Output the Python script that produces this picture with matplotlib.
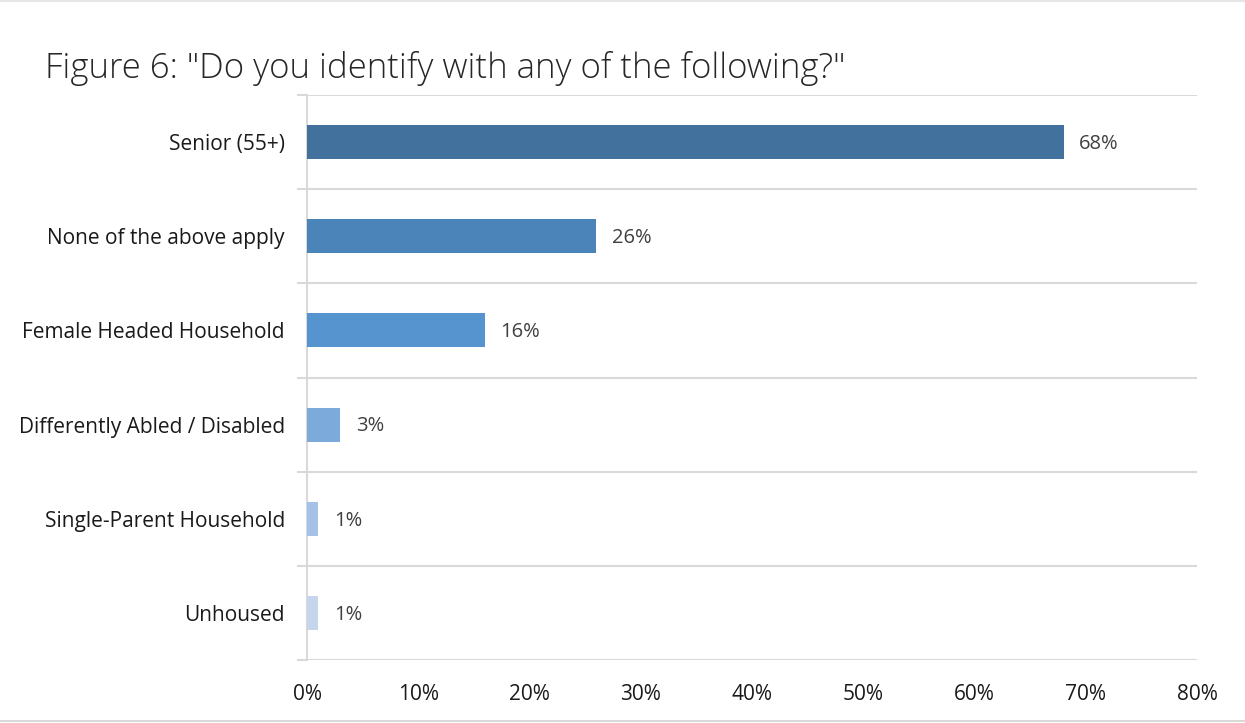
import matplotlib.pyplot as plt
from matplotlib.lines import Line2D
import numpy as np

categories = ["Senior (55+)", "None of the above apply", "Female Headed Household",
              "Differently Abled / Disabled", "Single-Parent Household", "Unhoused"]
values = [68, 26, 16, 3, 1, 1]
colors = ["#41719C", "#4A84B8", "#5594CE", "#7BAADB", "#A4C2E5", "#C5D5EC"]
xticks = [0, 10, 20, 30, 40, 50, 60, 70, 80]

fig = plt.figure(figsize=(12.45, 7.23), dpi=100)
ax = fig.add_axes([307 / 1245, 1 - 660 / 723, 890 / 1245, 565 / 723])

y = np.arange(len(categories))
ax.barh(y, values, height=0.36, color=colors, zorder=3)
for yi, v in zip(y, values):
    ax.text(v + 1.4, yi + 0.02, f"{v}%", va="center", ha="left", fontsize=14.5,
            color="#404040", family="Open Sans")

ax.set_ylim(len(categories) - 0.5, -0.5)
ax.set_xlim(0, 80)
ax.set_yticks(y)
ax.set_yticklabels(categories, fontsize=15, family="Open Sans", color="#1a1a1a")
ax.set_yticks(np.arange(len(categories) + 1) - 0.5, minor=True)
ax.tick_params(axis="y", which="major", length=0, pad=16)
ax.tick_params(axis="y", which="minor", length=7, color="#D9D9D9", width=1.5)
ax.set_xticks(xticks)
ax.set_xticklabels([f"{t}%" for t in xticks], fontsize=15, family="Open Sans", color="#1a1a1a")
ax.tick_params(axis="x", length=0, pad=17)
ax.grid(axis="y", which="minor", color="#D9D9D9", linewidth=1.5, zorder=0)

for side in ["top", "right", "bottom"]:
    ax.spines[side].set_visible(False)
ax.spines["left"].set_color("#D9D9D9")
ax.spines["left"].set_linewidth(1.5)

fig.text(45 / 1245, 1 - 68 / 723, 'Figure 6: "Do you identify with any of the following?"',
         fontsize=25, family="Open Sans", fontweight="light", color="#262626",
         va="center", ha="left")

fig.add_artist(Line2D([0, 1], [0.999, 0.999], color="#E6E6E6", linewidth=1.5))
fig.add_artist(Line2D([0, 1], [1 - 721 / 723] * 2, color="#D9D9D9", linewidth=1.5))

fig.savefig("out.png", dpi=100)
